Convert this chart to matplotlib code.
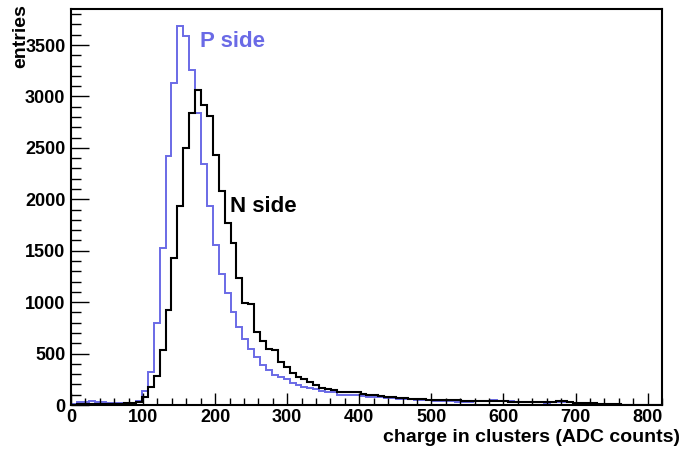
import matplotlib
matplotlib.use("Agg")
import matplotlib.pyplot as plt
import numpy as np
from matplotlib.ticker import MultipleLocator

plt.rcParams['font.family'] = ['Liberation Sans', 'DejaVu Sans']
plt.rcParams['font.weight'] = 'bold'

# 100 bins from 0 to 820 ADC counts
x_min, x_max, n_bins = 0, 820, 100

p_side = [8, 25, 30, 35, 30, 25, 22, 18, 15, 15,
          20, 40, 140, 320, 795, 1524, 2422, 3129, 3687, 3583,
          3259, 2840, 2340, 1930, 1556, 1274, 1086, 900, 762, 640,
          545, 462, 390, 340, 290, 270, 250, 211, 195, 178,
          165, 160, 140, 130, 125, 100, 97, 97, 95, 85,
          80, 78, 75, 68, 65, 60, 58, 55, 50, 48,
          45, 42, 40, 38, 35, 32, 30, 32, 35, 38,
          40, 45, 42, 38, 35, 32, 30, 28, 26, 25,
          24, 26, 28, 30, 26, 22, 20, 18, 16, 14,
          12, 10, 8, 0, 0, 0, 0, 0, 0, 0]

n_side = [0, 5, 8, 10, 10, 12, 12, 12, 14, 15,
          18, 32, 80, 175, 280, 535, 924, 1433, 1936, 2500,
          2840, 3064, 2918, 2805, 2432, 2085, 1770, 1573, 1237, 990,
          985, 708, 620, 545, 535, 421, 373, 308, 276, 250,
          227, 195, 162, 152, 146, 130, 124, 130, 124, 110,
          100, 95, 85, 78, 75, 70, 65, 62, 58, 55,
          52, 50, 50, 48, 46, 45, 42, 42, 40, 40,
          42, 40, 38, 35, 33, 30, 28, 28, 26, 30,
          32, 30, 35, 40, 32, 20, 18, 16, 15, 14,
          12, 12, 10, 0, 0, 0, 0, 0, 0, 0]

edges = np.linspace(x_min, x_max, n_bins + 1)
blue = '#6a6ae6'

fig = plt.figure(figsize=(6.95, 4.5), dpi=100)
ax = fig.add_axes([71/695, 1 - 405/450, (662 - 71)/695, (405 - 9)/450])

ax.stairs(p_side, edges, color=blue, linewidth=1.4)
ax.stairs(n_side, edges, color='black', linewidth=1.5)

ax.set_xlim(x_min, x_max)
ax.set_ylim(0, 3850)

ax.xaxis.set_major_locator(MultipleLocator(100))
ax.xaxis.set_minor_locator(MultipleLocator(20))
ax.yaxis.set_major_locator(MultipleLocator(500))
ax.yaxis.set_minor_locator(MultipleLocator(100))

ax.tick_params(axis='both', which='both', direction='in', top=False, right=False,
               width=1, labelsize=13)
ax.tick_params(axis='y', which='major', length=13, pad=4)
ax.tick_params(axis='y', which='minor', length=7)
ax.tick_params(axis='x', which='major', length=9, pad=3)
ax.tick_params(axis='x', which='minor', length=5)
for lab in ax.get_xticklabels() + ax.get_yticklabels():
    lab.set_fontweight('bold')

for s in ax.spines.values():
    s.set_linewidth(1.5)

ax.text(179, 3530, 'P side', color=blue, fontsize=16, fontweight='bold', va='center')
ax.text(221, 1925, 'N side', color='black', fontsize=16, fontweight='bold', va='center')

fig.text(21/695, 1 - 4/450, 'entries', rotation=90, ha='center', va='top',
         fontsize=14, fontweight='bold')
fig.text(680/695, 1 - 437/450, 'charge in clusters (ADC counts)', ha='right', va='center',
         fontsize=14, fontweight='bold')

fig.savefig('out.png', dpi=100, facecolor='white')
